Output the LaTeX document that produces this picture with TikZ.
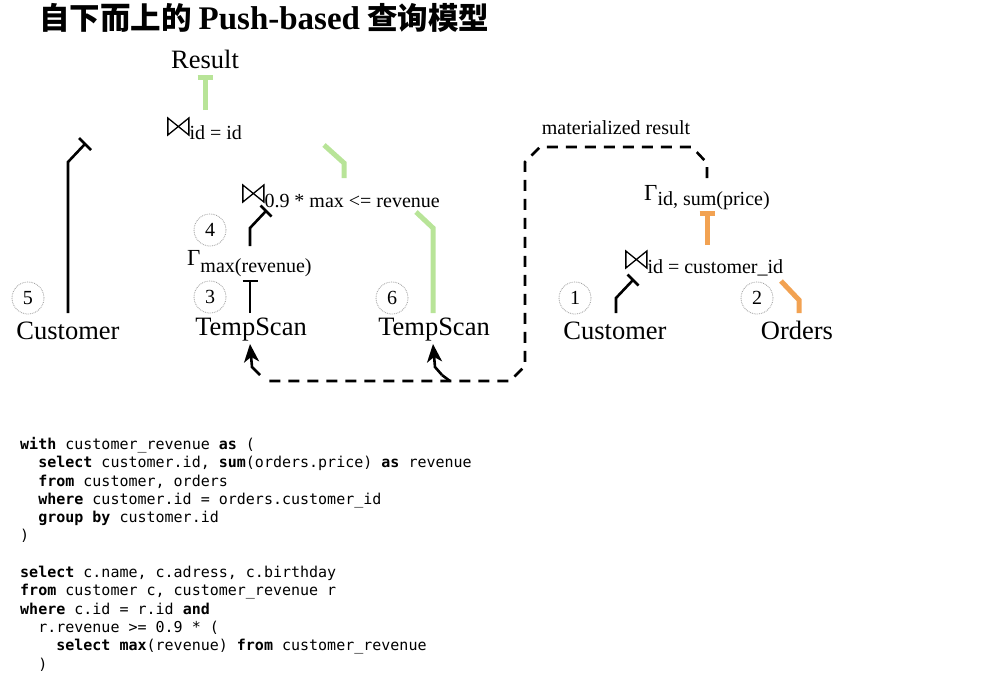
\documentclass[tikz,border=0pt]{standalone}
\usepackage{fontspec}
\setmainfont{Liberation Serif}
\newfontfamily\cjk{Noto Sans CJK SC}
\newfontfamily\tnr{Liberation Serif}
\newfontfamily\codefont{DejaVu Sans Mono}
\usetikzlibrary{arrows.meta,calc}
\definecolor{lgreen}{RGB}{184,228,152}
\definecolor{lorange}{RGB}{242,162,82}
\newcommand{\bt}{\tikz[x=1pt,y=1pt,baseline=-1pt]{\draw[line width=1.3pt, line join=miter] (1,0) -- (1,17) -- (22,0) -- (22,17) -- cycle;}}
\newcommand{\gm}{{\fontsize{23}{23}\selectfont Γ}}
\newcommand{\sbx}[2][-4pt]{\raisebox{#1}{\fontsize{20}{20}\selectfont #2}}
\newcommand{\ind}{\phantom{xx}}
\tikzset{
  lbl/.style={font=\fontsize{26.5}{28}\selectfont, inner sep=0pt, anchor=base},
  op/.style={inner sep=0pt, anchor=base west},
  num/.style={circle, draw=gray!80, densely dotted, line width=0.8pt, minimum size=32pt, inner sep=0pt, font=\fontsize{20}{20}\selectfont},
  bk/.style={line width=2.6pt, black},
  gr/.style={line width=5pt, lgreen},
  org/.style={line width=5pt, lorange},
  mat/.style={line width=2.6pt, black, dash pattern=on 11pt off 8pt},
  tip/.style={line width=2.6pt, black, -{Stealth[length=18pt,width=15pt,inset=5pt]}},
}
\begin{document}
\begin{tikzpicture}[x=1pt,y=-1pt]
\useasboundingbox (0,0) rectangle (997,699);

% title
\node[anchor=base west, inner sep=0pt, font=\fontsize{30.5}{31}\selectfont] (title) at (39,29)
  {\cjk\bfseries 自下而上的 {\tnr\bfseries\fontsize{33}{33}\selectfont Push-based} 查询模型};

% labels
\node[lbl] (res) at (205,68) {Result};
\node[lbl] (cust5) at (68,339) {Customer};
\node[lbl] (ts3) at (251,335) {TempScan};
\node[lbl] (ts6) at (434,335) {TempScan};
\node[lbl] (cust1) at (615,339) {Customer};
\node[lbl] (ord) at (797,339) {Orders};
\node[anchor=base, inner sep=0pt, font=\fontsize{20}{21}\selectfont] (matlbl) at (616,134) {materialized result};

% operators
\node[op] (j1) at (167,136) {\bt\sbx[-3pt]{id = id}};
\node[op] (j2) at (242,203) {\bt\sbx[-4pt]{0.9 * max <= revenue}};
\node[op] (g1) at (187,265) {\gm\sbx[-7pt]{max(revenue)}};
\node[op] (g2) at (644,200) {\gm\sbx[-5pt]{id, sum(price)}};
\node[op] (j3) at (625,269) {\bt\sbx[-4pt]{id = customer\_id}};

% numbered circles
\node[num] (n5) at (28,298) {5};
\node[num] (n4) at (210,230) {4};
\node[num] (n3) at (210,297) {3};
\node[num] (n6) at (392,298) {6};
\node[num] (n1) at (575,298) {1};
\node[num] (n2) at (757,298) {2};

% edge end points
\coordinate (e1a) at (205,110); \coordinate (e1b) at (205,77);
\coordinate (e2a) at (344,178); \coordinate (e2b) at (344,163); \coordinate (e2c) at (324,145);
\coordinate (e3a) at (68,313);  \coordinate (e3b) at (68,162);  \coordinate (e3c) at (85,144);
\coordinate (e4a) at (250,246); \coordinate (e4b) at (250,228); \coordinate (e4c) at (266,211);
\coordinate (e5a) at (250,313); \coordinate (e5b) at (250,281);
\coordinate (e6a) at (433,313); \coordinate (e6b) at (433,228); \coordinate (e6c) at (416,212);
\coordinate (e7a) at (616,313); \coordinate (e7b) at (616,298); \coordinate (e7c) at (633,280);
\coordinate (e8a) at (799,313); \coordinate (e8b) at (799,300); \coordinate (e8c) at (781,281);
\coordinate (e9a) at (707,245); \coordinate (e9b) at (707,213);

% edges
\draw[gr] (e1a) -- (e1b);
\draw[gr] ([xshift=-7.5pt]e1b) -- ([xshift=7.5pt]e1b);
\draw[gr] (e2a) -- (e2b) -- (e2c);
\draw[bk] (e3a) -- (e3b) -- (e3c);
\draw[bk] ($(e3c)+(-6,-6)$) -- ($(e3c)+(6,6)$);
\draw[bk] (e4a) -- (e4b) -- (e4c);
\draw[bk] ($(e4c)+(-5.5,-5.5)$) -- ($(e4c)+(5.5,5.5)$);
\draw[bk] (e5a) -- (e5b);
\draw[bk] ([xshift=-7.5pt]e5b) -- ([xshift=7.5pt]e5b);
\draw[gr] (e6a) -- (e6b) -- (e6c);
\draw[bk] (e7a) -- (e7b) -- (e7c);
\draw[bk] ($(e7c)+(-5.5,-5.5)$) -- ($(e7c)+(5.5,5.5)$);
\draw[org] (e8a) -- (e8b) -- (e8c);
\draw[org] (e9a) -- (e9b);
\draw[org] ([xshift=-7.5pt]e9b) -- ([xshift=7.5pt]e9b);

% materialized result dashed path
\coordinate (m0) at (707,178);
\coordinate (m1) at (707,163);
\coordinate (m2) at (692,147);
\coordinate (m3) at (540,147);
\coordinate (m4) at (525,162);
\coordinate (m5) at (525,366);
\coordinate (m6) at (510,381);
\coordinate (m7) at (268,381);
\coordinate (m8) at (260,375);
\coordinate (h3) at (252,367);
\coordinate (t3) at (250,344);
\coordinate (m9) at (450,381);
\coordinate (m10) at (442,375);
\coordinate (h6) at (435,367);
\coordinate (t6) at (433,344);
\draw[mat] (m0) -- (m1) -- (m2) -- (m3) -- (m4) -- (m5) -- (m6) -- (m7);
\draw[mat] (m9) -- (m10);
\draw[tip] (m8) -- (h3) -- (t3);
\draw[tip] (m10) -- (h6) -- (t6);

% SQL
\node[anchor=north west, inner sep=0pt, align=left, font=\codefont\fontsize{15}{18.3}\selectfont] (code) at (20,437) {%
\textbf{with} customer\_revenue \textbf{as} (\\
\ind\textbf{select} customer.id, \textbf{sum}(orders.price) \textbf{as} revenue\\
\ind\textbf{from} customer, orders\\
\ind\textbf{where} customer.id = orders.customer\_id\\
\ind\textbf{group by} customer.id\\
)\\
\mbox{}\\
\textbf{select} c.name, c.adress, c.birthday\\
\textbf{from} customer c, customer\_revenue r\\
\textbf{where} c.id = r.id \textbf{and}\\
\ind r.revenue >= 0.9 * (\\
\ind\ind\textbf{select} \textbf{max}(revenue) \textbf{from} customer\_revenue\\
\ind)};
\end{tikzpicture}
\end{document}
